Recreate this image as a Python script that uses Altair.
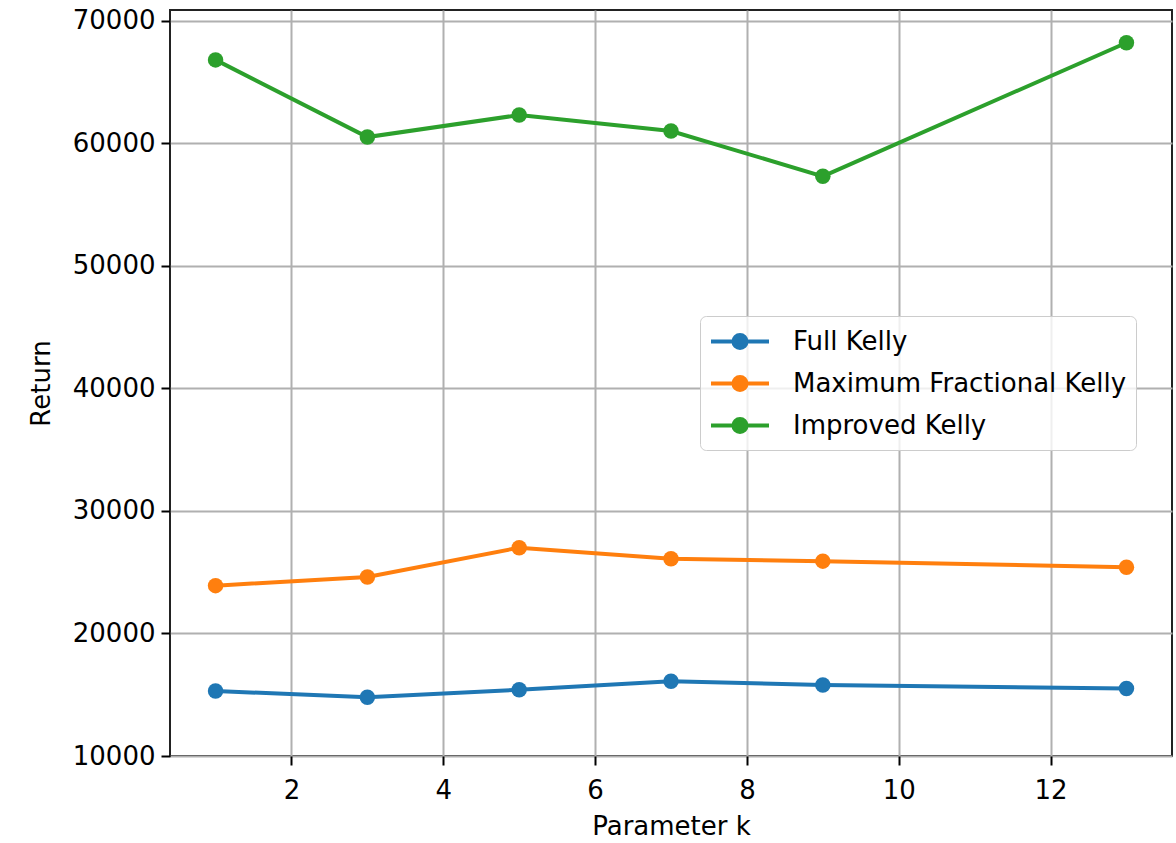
import altair as alt
import pandas as pd

# ---- data ----
k_values = [1, 3, 5, 7, 9, 13]
full_kelly = [15300, 14800, 15400, 16100, 15800, 15500]
max_frac_kelly = [23900, 24600, 27000, 26100, 25900, 25400]
improved_kelly = [66800, 60500, 62300, 61000, 57300, 68200]
series_names = ["Full Kelly", "Maximum Fractional Kelly", "Improved Kelly"]
series_colors = ["#1f77b4", "#ff7f0e", "#2ca02c"]
x_ticks = [2, 4, 6, 8, 10, 12]
y_ticks = [10000, 20000, 30000, 40000, 50000, 60000, 70000]

rows = []
for name, vals in zip(series_names, [full_kelly, max_frac_kelly, improved_kelly]):
    for k, v in zip(k_values, vals):
        rows.append({"k": k, "Return": v, "series": name})
df = pd.DataFrame(rows)

FONT = "DejaVu Sans"
FS = 26
legend_symbol = "M-1,0L3,0M0.55,0A0.45,0.45,0,1,1,1.45,0A0.45,0.45,0,1,1,0.55,0Z"

x_enc = alt.X(
    "k:Q",
    title="Parameter k",
    scale=alt.Scale(domain=[0.4, 13.6], nice=False, zero=False),
    axis=alt.Axis(values=x_ticks, format="d", domain=False, tickSize=9, tickWidth=2,
                  tickColor="#000", labelPadding=12, titlePadding=10,
                  gridColor="#b0b0b0", gridWidth=2,
                  labelFont=FONT, labelFontSize=FS, labelColor="#000",
                  titleFont=FONT, titleFontSize=FS, titleFontWeight="normal",
                  titleColor="#000"),
)
y_enc = alt.Y(
    "Return:Q",
    title="Return",
    scale=alt.Scale(domain=[10000, 70870], nice=False, zero=False),
    axis=alt.Axis(values=y_ticks, format="d", domain=False, tickSize=9, tickWidth=2,
                  tickColor="#000", labelPadding=6, titlePadding=18,
                  gridColor="#b0b0b0", gridWidth=2,
                  labelFont=FONT, labelFontSize=FS, labelColor="#000",
                  titleFont=FONT, titleFontSize=FS, titleFontWeight="normal",
                  titleColor="#000"),
)
color_enc = alt.Color(
    "series:N",
    sort=series_names,
    scale=alt.Scale(domain=series_names, range=series_colors),
    legend=alt.Legend(
        title=None, orient="none", legendX=530, legendY=306,
        symbolType=legend_symbol, symbolSize=841, symbolStrokeWidth=4,
        labelFont=FONT, labelFontSize=FS, labelColor="#000", labelOffset=51,
        labelLimit=600, fillColor="rgba(255,255,255,0.8)", strokeColor="#cccccc",
        cornerRadius=6, padding=9, rowPadding=10,
    ),
)

lines = alt.Chart(df).mark_line(strokeWidth=4).encode(x=x_enc, y=y_enc, color=color_enc)
points = alt.Chart(df).mark_point(filled=True, size=240, opacity=1).encode(
    x=x_enc, y=y_enc, color=color_enc
)

chart = (
    alt.layer(lines, points)
    .properties(
        width=1002, height=746,
        autosize=alt.AutoSizeParams(type="none"),
        padding={"left": 170, "top": 10, "right": 4, "bottom": 87},
        background="white",
    )
    .configure_view(stroke="#222", strokeWidth=2)
)

chart.save("out.html", embed_options={"renderer": "svg", "actions": False})
